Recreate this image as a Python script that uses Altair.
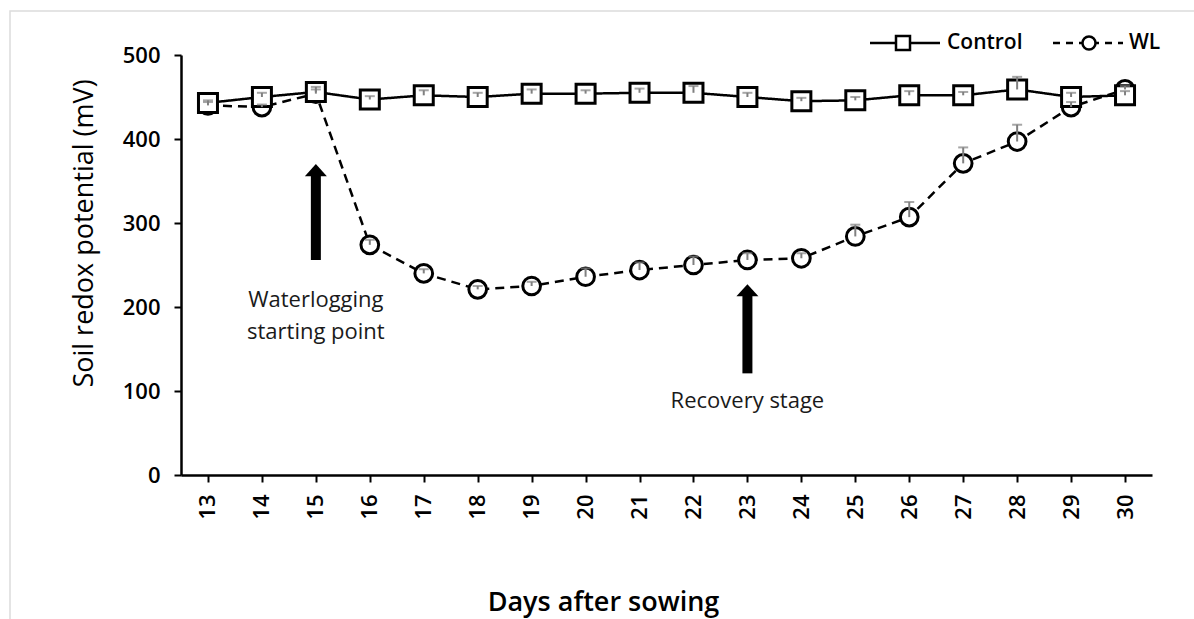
import altair as alt
import pandas as pd

# Soil redox potential (mV) by days after sowing
days = list(range(13, 31))
control = [443, 450, 456, 447, 452, 450, 454, 454, 455, 455, 450, 445, 446, 452, 452, 459, 450, 452]
control_se = [3, 5, 6, 4, 6, 5, 5, 4, 5, 8, 5, 4, 4, 5, 4, 15, 5, 5]
wl = [440, 438, 454, 274, 240, 221, 225, 236, 244, 250, 256, 258, 284, 307, 371, 397, 438, 459]
wl_se = [4, 3, 5, 6, 5, 4, 5, 10, 9, 10, 8, 6, 14, 18, 19, 20, 6, 4]

# annotation arrows: day, head centre and tail in mV
arrow_day = [15, 23]
arrow_head = [363, 220]
arrow_tail = [256, 121]
note_day = [15, 15, 23]
note_y = [208, 170, 88]
note_text = ["Waterlogging", "starting point", "Recovery stage"]

FONT = "Open Sans"
INK = "#000000"

ctrl_df = pd.DataFrame({"day": days, "mv": control, "top": [v + s for v, s in zip(control, control_se)]})
wl_df = pd.DataFrame({"day": days, "mv": wl, "top": [v + s for v, s in zip(wl, wl_se)]})
arrows_df = pd.DataFrame({"day": arrow_day, "head": arrow_head, "tail": arrow_tail})
notes_df = pd.DataFrame({"day": note_day, "y": note_y, "text": note_text})
one = pd.DataFrame({"k": [0]})

x_enc = alt.X(
    "day:O",
    scale=alt.Scale(type="point", padding=0.5),
    axis=alt.Axis(
        title="Days after sowing",
        labelAngle=270,
        labelFontSize=22,
        labelFont=FONT,
        labelFontWeight=600,
        labelColor=INK,
        labelPadding=12,
        titleFontSize=27,
        titleFont=FONT,
        titleFontWeight=600,
        titleColor=INK,
        titleX=422,
        titleY=127,
        titleAnchor="start",
        titleAlign="center",
        titleBaseline="middle",
        domainColor=INK,
        domainWidth=2.5,
        tickColor=INK,
        tickWidth=2,
        tickSize=7,
        grid=False,
    ),
)
y_scale = alt.Scale(domain=[0, 500], nice=False, zero=True)
y_enc = alt.Y(
    "mv:Q",
    scale=y_scale,
    axis=alt.Axis(
        title="Soil redox potential (mV)",
        values=[0, 100, 200, 300, 400, 500],
        labelFontSize=22,
        labelFont=FONT,
        labelFontWeight=600,
        labelColor=INK,
        labelPadding=14,
        titleFontSize=27,
        titleFont=FONT,
        titleFontWeight="normal",
        titleColor=INK,
        titleX=-97,
        titleY=178,
        titleAngle=270,
        titleAlign="center",
        titleBaseline="middle",
        domainColor=INK,
        domainWidth=2.5,
        tickColor=INK,
        tickWidth=2,
        tickSize=7,
        grid=False,
    ),
)


def series(df, dash, shape, size):
    base = alt.Chart(df)
    line = base.mark_line(color=INK, strokeWidth=2.5, strokeDash=dash).encode(x=x_enc, y=y_enc)
    pts = base.mark_point(
        shape=shape, size=size, filled=True, fill="white", stroke=INK, strokeWidth=3, opacity=1
    ).encode(x="day:O", y="mv:Q")
    err = base.mark_rule(color="#808080", strokeWidth=2).encode(x="day:O", y="mv:Q", y2="top:Q")
    cap = base.mark_tick(color="#808080", orient="horizontal", size=10, thickness=2).encode(
        x="day:O", y=alt.Y("top:Q", scale=y_scale)
    )
    return [line, pts, err, cap]


ctrl_layers = series(ctrl_df, [1, 0], "square", 361)
wl_layers = series(wl_df, [9, 6], "circle", 314)

shaft = alt.Chart(arrows_df).mark_rule(color=INK, strokeWidth=10).encode(
    x="day:O", y=alt.Y("tail:Q", scale=y_scale), y2="head:Q"
)
head = alt.Chart(arrows_df).mark_point(
    shape="M0,-0.55L1,0.55L-1,0.55Z", size=484, filled=True, color=INK, opacity=1
).encode(x="day:O", y=alt.Y("head:Q", scale=y_scale))
notes = alt.Chart(notes_df).mark_text(
    font=FONT, fontSize=22, color="#1a1a1a", align="center", baseline="middle"
).encode(x="day:O", y=alt.Y("y:Q", scale=y_scale), text="text:N")

# legend drawn in plot pixel space above the data
leg_y = -12
leg_ctrl_line = alt.Chart(one).mark_rule(color=INK, strokeWidth=2.5).encode(
    x=alt.value(689), x2=alt.value(759), y=alt.value(leg_y)
)
leg_ctrl_pt = alt.Chart(one).mark_point(
    shape="square", size=196, filled=True, fill="white", stroke=INK, strokeWidth=2.5, opacity=1
).encode(x=alt.value(722), y=alt.value(leg_y))
leg_ctrl_txt = alt.Chart(one).mark_text(
    text="Control", font=FONT, fontSize=21, fontWeight=600, color=INK, align="left", baseline="middle"
).encode(x=alt.value(766), y=alt.value(leg_y))
leg_wl_line = alt.Chart(one).mark_rule(color=INK, strokeWidth=2.5, strokeDash=[7, 6]).encode(
    x=alt.value(872), x2=alt.value(942), y=alt.value(leg_y)
)
leg_wl_pt = alt.Chart(one).mark_point(
    shape="circle", size=170, filled=True, fill="white", stroke=INK, strokeWidth=2.5, opacity=1
).encode(x=alt.value(908), y=alt.value(leg_y))
leg_wl_txt = alt.Chart(one).mark_text(
    text="WL", font=FONT, fontSize=21, fontWeight=600, color=INK, align="left", baseline="middle"
).encode(x=alt.value(948), y=alt.value(leg_y))

# light frame around the figure
frame = alt.Chart(one).mark_rect(fillOpacity=0, stroke="#dcdcdc", strokeWidth=1.5).encode(
    x=alt.value(-171), x2=alt.value(1030), y=alt.value(-44), y2=alt.value(580)
)

chart = alt.layer(
    frame,
    *wl_layers[:1], *ctrl_layers[:1],
    wl_layers[1], ctrl_layers[1],
    wl_layers[2], wl_layers[3], ctrl_layers[2], ctrl_layers[3],
    shaft, head, notes,
    leg_ctrl_line, leg_ctrl_pt, leg_ctrl_txt, leg_wl_line, leg_wl_pt, leg_wl_txt,
).properties(
    width=971,
    height=420,
    autosize=alt.AutoSizeParams(type="none"),
    padding={"left": 181, "top": 55, "right": 42, "bottom": 144},
    background="white",
).configure_view(stroke=None)

chart.save("out.html", embed_options={"renderer": "svg", "actions": False})
